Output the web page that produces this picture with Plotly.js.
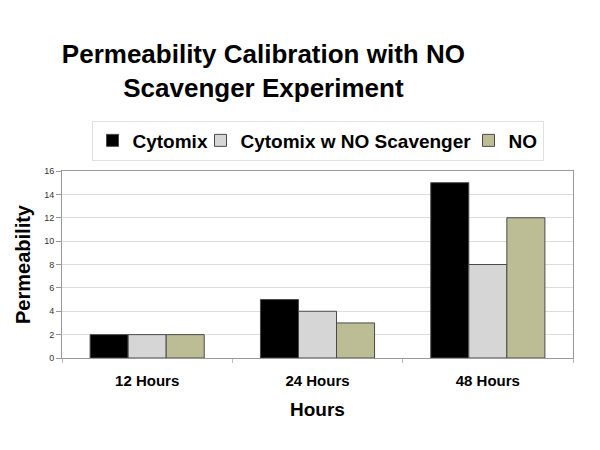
<!DOCTYPE html>
<html>
<head>
<meta charset="utf-8">
<script src="https://cdn.plot.ly/plotly-3.0.1.min.js"></script>
<style>
  body { margin: 0; background: #fff; }
  #chart { width: 600px; height: 450px; }
</style>
</head>
<body>
<div id="chart"></div>
<script>
const categories = ['12 Hours', '24 Hours', '48 Hours'];
const seriesNames = ['Cytomix', 'Cytomix w NO Scavenger', 'NO'];
const cytomix = [2, 5, 15];
const cytomixScavenger = [2, 4, 8];
const noOnly = [2, 3, 12];
const colors = ['#000000', '#d6d6d6', '#bdbd95'];
// legend entry widths, px
const legendWidths = [63, 223, 29];

const values = [cytomix, cytomixScavenger, noOnly];
const traces = values.map((v, i) => ({
    type: 'bar',
    x: categories,
    y: v,
    name: seriesNames[i],
    legendwidth: legendWidths[i],
    marker: { color: colors[i], line: { color: '#4a4a4a', width: 1 } }
}));

const layout = {
    width: 600,
    height: 450,
    paper_bgcolor: '#fff',
    plot_bgcolor: '#fff',
    font: { family: 'Liberation Sans, Arial, sans-serif', color: '#000' },
    title: {
        text: '<b>Permeability Calibration with NO<br>Scavenger Experiment</b>',
        font: { size: 26, color: '#000' },
        x: 0.439, xanchor: 'center',
        y: 0.86, yanchor: 'middle'
    },
    margin: { l: 62, r: 27, t: 171, b: 92 },
    barmode: 'group',
    bargap: 0.33,
    bargroupgap: 0,
    showlegend: true,
    legend: {
        orientation: 'h',
        x: 0.5, xanchor: 'center',
        y: 1.27, yanchor: 'top',
        font: { size: 19, color: '#000', family: 'Liberation Sans, Arial, sans-serif', weight: 'bold' },
        bordercolor: '#e0e0e0', borderwidth: 1,
        itemwidth: 30,
        traceorder: 'normal'
    },
    xaxis: {
        title: { text: '<b>Hours</b>', font: { size: 19 }, standoff: 14 },
        tickfont: { size: 15, weight: 'bold' },
        showline: true, linecolor: '#999', mirror: true,
        tickson: 'boundaries',
        ticks: 'outside', ticklen: 4, tickcolor: '#bbb',
        ticklabelstandoff: 9
    },
    yaxis: {
        title: { text: '<b>Permeability</b>', font: { size: 20 }, standoff: 8 },
        range: [0, 16],
        dtick: 2,
        tickfont: { size: 9, color: '#333' },
        gridcolor: '#dddddd',
        showline: true, linecolor: '#999', mirror: true,
        ticks: 'outside', ticklen: 5, tickcolor: '#999'
    }
};

Plotly.newPlot('chart', traces, layout, { displayModeBar: false });
</script>
</body>
</html>
